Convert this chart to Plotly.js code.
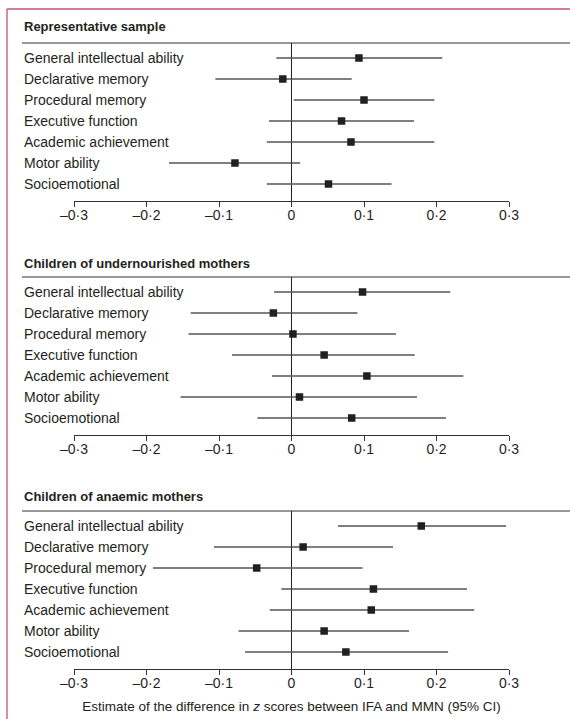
<!DOCTYPE html>
<html>
<head>
<meta charset="utf-8">
<script src="https://cdn.plot.ly/plotly-3.0.1.min.js"></script>
<style>
html,body{margin:0;padding:0;background:#fff;}
#chart{width:570px;height:719px;}
</style>
</head>
<body>
<div id="chart"></div>
<script>
// ---- data ----
var categories = ["General intellectual ability","Declarative memory","Procedural memory","Executive function","Academic achievement","Motor ability","Socioemotional"];
var panelTitles = ["Representative sample","Children of undernourished mothers","Children of anaemic mothers"];

var repEst   = [0.093, -0.012, 0.100, 0.069, 0.082, -0.078, 0.051];
var repLow   = [-0.021, -0.105, 0.003, -0.031, -0.034, -0.169, -0.034];
var repHigh  = [0.208, 0.083, 0.197, 0.169, 0.197, 0.012, 0.138];

var undEst   = [0.098, -0.025, 0.002, 0.045, 0.104, 0.011, 0.083];
var undLow   = [-0.024, -0.139, -0.142, -0.082, -0.027, -0.153, -0.047];
var undHigh  = [0.219, 0.091, 0.144, 0.170, 0.237, 0.173, 0.213];

var anaEst   = [0.179, 0.016, -0.048, 0.113, 0.110, 0.045, 0.075];
var anaLow   = [0.064, -0.107, -0.191, -0.014, -0.030, -0.073, -0.064];
var anaHigh  = [0.296, 0.140, 0.098, 0.242, 0.252, 0.162, 0.216];

var tickVals = [-0.3, -0.2, -0.1, 0, 0.1, 0.2, 0.3];
var tickText = ["\u20130\u00b73", "\u20130\u00b72", "\u20130\u00b71", "0", "0\u00b71", "0\u00b72", "0\u00b73"];
var xAxisTitle = "Estimate of the difference in <i>z</i> scores between IFA and MMN (95% CI)";

// ---- layout geometry (pixels) ----
var W = 570, H = 719;
var FONT = "Liberation Sans, Arial, sans-serif";
var textColor = "#231f20";
var panels = [
  {est: repEst, low: repLow, high: repHigh, top: 43, bottom: 201, titleY: 27},
  {est: undEst, low: undLow, high: undHigh, top: 277, bottom: 435, titleY: 263},
  {est: anaEst, low: anaLow, high: anaHigh, top: 511, bottom: 669, titleY: 496}
];
function py(p){ return 1 - p / H; }
function px(p){ return p / W; }

var traces = [], shapes = [], annotations = [];
var layout = {
  width: W, height: H,
  margin: {l: 0, r: 0, t: 0, b: 0},
  paper_bgcolor: "#fff", plot_bgcolor: "rgba(0,0,0,0)",
  showlegend: false,
  font: {family: FONT, color: textColor, size: 14}
};

panels.forEach(function(p, k){
  var n = k + 1;
  var xa = n === 1 ? "x" : "x" + n;
  var ya = n === 1 ? "y" : "y" + n;
  traces.push({
    type: "scatter", mode: "markers",
    x: p.est, y: categories,
    xaxis: xa, yaxis: ya,
    marker: {symbol: "square", size: 7.5, color: "#231f20"},
    error_x: {
      type: "data", symmetric: false,
      array: p.high.map(function(h, i){ return h - p.est[i]; }),
      arrayminus: p.est.map(function(e, i){ return e - p.low[i]; }),
      width: 0, thickness: 1.5, color: "#555555"
    },
    hoverinfo: "skip"
  });
  layout["xaxis" + (n === 1 ? "" : n)] = {
    domain: [px(74), px(509)],
    anchor: ya,
    range: [-0.3, 0.3],
    tickvals: tickVals, ticktext: tickText,
    ticks: "outside", ticklen: 5, tickwidth: 1, tickcolor: "#333",
    ticklabelstandoff: -4,
    showline: true, linecolor: "#333", linewidth: 1,
    showgrid: false,
    zeroline: true, zerolinecolor: "#231f20", zerolinewidth: 1,
    tickfont: {family: FONT, size: 14, color: textColor},
    fixedrange: true
  };
  if (n === 3) {
    layout["xaxis3"].title = {text: xAxisTitle, font: {family: FONT, size: 13.5, color: textColor}, standoff: 11};
  }
  var rowTop = p.top + 15, rowStep = (p.bottom - 17 - rowTop) / 6;
  layout["yaxis" + (n === 1 ? "" : n)] = {
    domain: [py(p.bottom), py(p.top)],
    anchor: xa,
    type: "category",
    categoryorder: "array", categoryarray: categories,
    range: [6 + 17 / rowStep, -15 / rowStep],
    showticklabels: false, ticks: "", showgrid: false, zeroline: false, showline: false,
    fixedrange: true
  };
  shapes.push({type: "line", xref: "paper", yref: "paper",
    x0: px(22), x1: 1, y0: py(p.top), y1: py(p.top),
    line: {color: "#333", width: 1.2}});
  annotations.push({xref: "paper", yref: "paper", x: px(22), y: py(p.titleY),
    xanchor: "left", yanchor: "middle", showarrow: false,
    text: "<b>" + panelTitles[k] + "</b>",
    font: {family: FONT, size: 13, color: textColor}});
  categories.forEach(function(c){
    annotations.push({xref: "paper", yref: ya, x: px(22), y: c,
      xanchor: "left", yanchor: "middle", showarrow: false,
      text: c, font: {family: FONT, size: 14, color: textColor}});
  });
});

// outer frame (left and top)
shapes.push({type: "line", xref: "paper", yref: "paper", x0: px(7), x1: px(7), y0: 0, y1: py(9),
  line: {color: "#c4546c", width: 1.3}});
shapes.push({type: "line", xref: "paper", yref: "paper", x0: px(7), x1: 1, y0: py(9), y1: py(9),
  line: {color: "#c4546c", width: 1.3}});

layout.shapes = shapes;
layout.annotations = annotations;

Plotly.newPlot("chart", traces, layout, {displayModeBar: false, staticPlot: true});
</script>
</body>
</html>
